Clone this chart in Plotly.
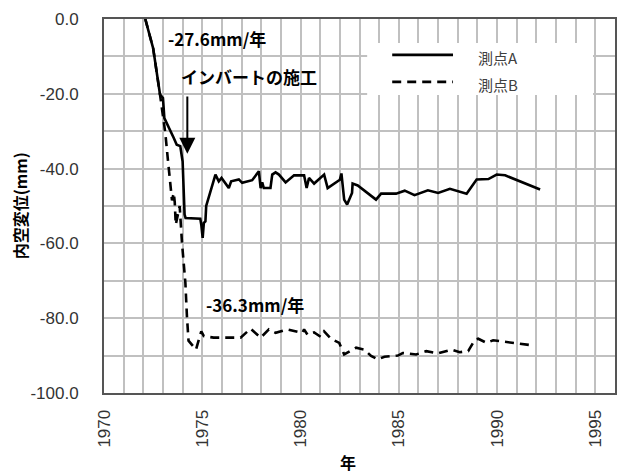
import plotly.graph_objects as go

# ---- data ----
years_a = [1972.1, 1972.5, 1972.85, 1973.0, 1973.07, 1973.45, 1973.55, 1973.7, 1973.88,
           1974.0, 1974.05, 1974.1, 1974.15, 1974.48, 1974.9, 1974.95, 1975.02, 1975.08,
           1975.16, 1975.2, 1975.67, 1975.84, 1975.98, 1976.35, 1976.47, 1976.86, 1977.03,
           1977.54, 1977.88, 1977.97, 1978.05, 1978.13, 1978.47, 1978.56, 1978.73, 1978.9,
           1979.24, 1979.67, 1980.18, 1980.31, 1980.43, 1980.69, 1981.2, 1981.38, 1981.6,
           1982.0, 1982.08, 1982.22, 1982.37, 1982.62, 1982.65, 1982.91, 1983.84, 1984.1,
           1984.86, 1985.3, 1985.8, 1986.48, 1987.0, 1987.6, 1988.45, 1988.96, 1989.56,
           1989.98, 1990.41, 1992.19]
disp_a = [0.0, -7.8, -20.2, -21.1, -26.5, -30.5, -31.8, -33.6, -34.0,
          -38.1, -43.4, -52.3, -53.2, -53.2, -53.4, -55.0, -58.5, -54.5,
          -54.1, -50.0, -41.6, -43.4, -42.5, -45.2, -43.4, -42.9, -43.8,
          -43.1, -40.7, -45.2, -43.7, -45.2, -45.2, -41.6, -41.0, -41.6,
          -43.7, -41.8, -41.8, -45.2, -42.5, -44.0, -41.6, -45.2, -44.5,
          -43.0, -41.3, -48.3, -49.6, -46.5, -44.0, -44.5, -48.3, -46.7,
          -46.7, -45.9, -47.1, -45.8, -46.5, -45.4, -46.7, -42.9, -42.8,
          -41.6, -41.8, -45.6]

years_b = [1972.1, 1972.5, 1972.85, 1972.97, 1973.12, 1973.25, 1973.37, 1973.46, 1973.55,
           1973.6, 1973.65, 1973.85, 1973.97, 1974.14, 1974.22, 1974.3, 1974.68, 1974.95,
           1975.08, 1975.58, 1976.95, 1977.46, 1977.97, 1978.39, 1978.73, 1979.33, 1980.1,
           1980.18, 1980.35, 1980.69, 1981.03, 1981.2, 1981.55, 1981.97, 1982.22, 1982.83,
           1983.25, 1983.59, 1983.93, 1984.27, 1984.95, 1985.2, 1985.88, 1986.4, 1987.0,
           1987.68, 1988.1, 1988.53, 1988.87, 1989.04, 1989.47, 1989.8, 1991.7]
disp_b = [0.0, -7.8, -20.2, -25.0, -30.5, -37.6, -44.7, -48.5, -46.5,
          -49.0, -55.0, -50.0, -60.0, -70.5, -79.5, -86.0, -88.4, -83.5,
          -84.8, -85.2, -85.2, -82.8, -85.2, -83.0, -83.9, -83.0, -83.9,
          -83.0, -84.4, -83.8, -85.0, -83.5, -85.5, -86.6, -89.7, -87.9,
          -88.4, -90.1, -91.0, -90.3, -90.0, -89.3, -89.7, -88.8, -89.4,
          -88.4, -89.1, -88.8, -85.8, -85.5, -86.6, -85.9, -87.2]

series_names = ["測点A", "測点B"]
x_ticks = [1970, 1975, 1980, 1985, 1990, 1995]
y_ticks = [0, -20, -40, -60, -80, -100]
y_tick_labels = ["0.0", "-20.0", "-40.0", "-60.0", "-80.0", "-100.0"]
rate_labels = ["-27.6mm/年", "-36.3mm/年"]
event_label = "インバートの施工"
x_title = "年"
y_title = "内空変位(mm)"

CJK = "Noto Sans CJK JP"
LAT = "Liberation Sans, Arial, sans-serif"

fig = go.Figure()
fig.add_trace(go.Scatter(x=years_a, y=disp_a, mode="lines", name=series_names[0],
                         line=dict(color="black", width=2.6), showlegend=False))
fig.add_trace(go.Scatter(x=years_b, y=disp_b, mode="lines", name=series_names[1],
                         line=dict(color="black", width=2.6, dash="9px,6px"), showlegend=False))

grid = "#c0c0c0"
fig.update_xaxes(range=[1970, 1996], tickvals=x_ticks, ticktext=[str(v) for v in x_ticks],
                 tickangle=-90, tickfont=dict(family=LAT, size=17, color="#333333"),
                 showgrid=True, gridcolor=grid, gridwidth=1.7,
                 minor=dict(dtick=1, showgrid=True, gridcolor=grid, gridwidth=1.7),
                 showline=True, linecolor="#555555", linewidth=2, mirror=True,
                 zeroline=False, ticks="", ticklabelstandoff=8, automargin=False)
fig.update_yaxes(range=[-100, 0], tickvals=y_ticks, ticktext=y_tick_labels,
                 tickfont=dict(family=LAT, size=17, color="#333333"),
                 showgrid=True, gridcolor=grid, gridwidth=1.7,
                 minor=dict(dtick=10, showgrid=True, gridcolor=grid, gridwidth=1.7),
                 showline=True, linecolor="#555555", linewidth=2, mirror=True,
                 zeroline=False, ticks="", ticklabelstandoff=20, automargin=False)

# axis titles
fig.add_annotation(xref="paper", yref="paper", x=0.477, y=-0.184, xanchor="center", yanchor="middle",
                   text=x_title, showarrow=False,
                   font=dict(family=CJK, size=16, color="black", weight="bold"))
fig.add_annotation(xref="paper", yref="paper", x=-0.164, y=0.5, xanchor="center", yanchor="middle",
                   text=y_title, showarrow=False, textangle=-90,
                   font=dict(family=CJK, size=16, color="black", weight="bold"))

# annotations
fig.add_annotation(x=1975.77, y=-5.3, text=rate_labels[0], showarrow=False,
                   xanchor="center", yanchor="middle",
                   font=dict(family=CJK, size=17, color="black", weight="bold"))
fig.add_annotation(x=1977.4, y=-15.4, text=event_label, showarrow=False,
                   xanchor="center", yanchor="middle",
                   font=dict(family=CJK, size=17, color="black", weight="bold"))
fig.add_annotation(x=1977.66, y=-76.4, text=rate_labels[1], showarrow=False,
                   xanchor="center", yanchor="middle",
                   font=dict(family=CJK, size=17, color="black", weight="bold"))
fig.add_annotation(x=1974.24, y=-36.0, ax=1974.24, ay=-20.3, axref="x", ayref="y",
                   xref="x", yref="y", text="", showarrow=True,
                   arrowhead=2, arrowsize=1.6, arrowwidth=2, arrowcolor="black")

# legend (drawn manually to match box layout)
fig.add_shape(type="rect", xref="paper", yref="paper", x0=0.515, x1=0.957, y0=0.797, y1=0.936,
              fillcolor="white", line=dict(width=0), layer="above")
fig.add_shape(type="line", xref="paper", yref="paper", x0=0.564, x1=0.683, y0=0.904, y1=0.904,
              line=dict(color="black", width=2.6))
fig.add_shape(type="line", xref="paper", yref="paper", x0=0.564, x1=0.683, y0=0.832, y1=0.832,
              line=dict(color="black", width=2.6, dash="9px,6px"))
fig.add_annotation(xref="paper", yref="paper", x=0.728, y=0.896, xanchor="left", yanchor="middle",
                   text=series_names[0], showarrow=False,
                   font=dict(family=CJK, size=15, color="#404040"))
fig.add_annotation(xref="paper", yref="paper", x=0.728, y=0.826, xanchor="left", yanchor="middle",
                   text=series_names[1], showarrow=False,
                   font=dict(family=CJK, size=15, color="#404040"))

fig.update_layout(width=617, height=476, margin=dict(l=104, r=2, t=19, b=83, autoexpand=False),
                  plot_bgcolor="white", paper_bgcolor="white", showlegend=False)

fig.write_html("out.html", config={"displayModeBar": False},
               post_script="document.body.style.margin='0';document.body.style.padding='0';")
